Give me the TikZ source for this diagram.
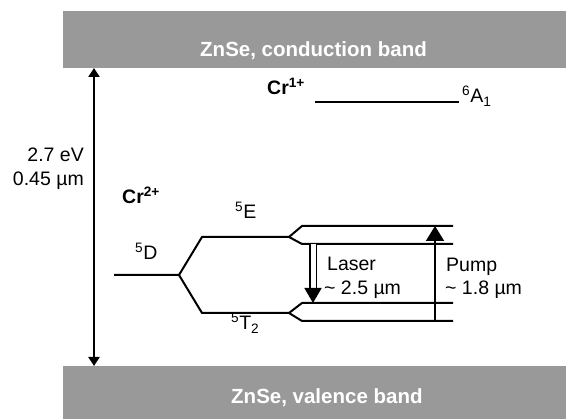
\documentclass[tikz,border=0pt]{standalone}
\usepackage{fontspec}
\setmainfont{Liberation Sans}
\usepackage{tikz}
\usetikzlibrary{arrows.meta, positioning}
\definecolor{bandgray}{RGB}{153,153,153}

\begin{document}
\begin{tikzpicture}[
    % one unit = one pixel of the 566x419 layout, y pointing down
    x=1pt,
    y=-1pt,
    >=Triangle,
    level/.style={line width=2pt, line join=miter},
    lbl/.style={font=\fontsize{19.5}{24}\selectfont, inner sep=0pt, anchor=base west},
    boldlbl/.style={lbl, font=\fontsize{19.5}{24}\selectfont\bfseries},
    bandlbl/.style={font=\fontsize{20.5}{24}\selectfont\bfseries, text=white, inner sep=0pt, anchor=base west}
]
    \useasboundingbox (0,0) rectangle (566,419);

    % --- Bands ---
    \fill[bandgray] (63,11) rectangle (566,68);
    \fill[bandgray] (63,366) rectangle (566,419);
    \node[bandlbl] (cbtext) at (200,57) {ZnSe, conduction band};
    \node[bandlbl] (vbtext) at (231,404) {ZnSe, valence band};

    % --- Band gap ---
    \coordinate (gaptop) at (94,68);
    \coordinate (gapbot) at (94,366);
    \draw[line width=2.2pt, {Triangle[length=9pt,width=11pt]}-{Triangle[length=9pt,width=11pt]}] (gaptop) -- (gapbot);
    \node[lbl, anchor=base east] (gapev) at (84,162) {2.7 eV};
    \node[lbl, anchor=base east] (gapum) at (84,186) {0.45 µm};

    % --- Cr1+ level ---
    \node[boldlbl] (crone) at (267,95) {Cr\textsuperscript{1+}};
    \coordinate (aleft) at (315,102);
    \coordinate (aright) at (459,102);
    \draw[level] (aleft) -- (aright);
    \node[lbl] (alabel) at (462,103) {\textsuperscript{6}A\textsubscript{1}};

    % --- Cr2+ levels: 5D splits into 5E and 5T2 ---
    \node[boldlbl] (crtwo) at (122,204) {Cr\textsuperscript{2+}};
    \coordinate (dleft) at (114,275);
    \coordinate (dsplit) at (179,275);
    \coordinate (eleft) at (202,237);
    \coordinate (esplit) at (289,237);
    \coordinate (tleft) at (202,313);
    \coordinate (tsplit) at (289,313);
    \draw[level] (dleft) -- (dsplit) -- (eleft) -- (esplit);
    \draw[level] (dsplit) -- (tleft) -- (tsplit);
    \node[lbl] (dlabel) at (135,260) {\textsuperscript{5}D};
    \node[lbl] (elabel) at (235,219) {\textsuperscript{5}E};
    \node[lbl] (tlabel) at (231,330) {\textsuperscript{5}T\textsubscript{2}};

    % --- Sublevels ---
    \coordinate (etop) at (302,226);
    \coordinate (etopr) at (453,226);
    \coordinate (ebot) at (302,244);
    \coordinate (ebotr) at (453,244);
    \coordinate (ttop) at (302,303);
    \coordinate (ttopr) at (453,303);
    \coordinate (tbot) at (302,321);
    \coordinate (tbotr) at (453,321);
    \draw[level] (etopr) -- (etop) -- (esplit) -- (ebot) -- (ebotr);
    \draw[level] (ttopr) -- (ttop) -- (tsplit) -- (tbot) -- (tbotr);

    % --- Transitions ---
    \coordinate (laserstart) at (313,244);
    \coordinate (laserend) at (313,303);
    \coordinate (pumpstart) at (435,321);
    \coordinate (pumpend) at (435,226);
    \draw[double, double distance=5pt, line width=1.6pt, -{Triangle[length=15pt,width=17pt]}] (laserstart) -- (laserend);
    \draw[line width=2pt, -{Triangle[length=15pt,width=18pt]}] (pumpstart) -- (pumpend);
    \node[lbl] (laser) at (327,271) {Laser};
    \node[lbl] (laserwl) at (324,295) {\textasciitilde{} 2.5 µm};
    \node[lbl] (pump) at (446,272) {Pump};
    \node[lbl] (pumpwl) at (445,295) {\textasciitilde{} 1.8 µm};

\end{tikzpicture}
\end{document}
